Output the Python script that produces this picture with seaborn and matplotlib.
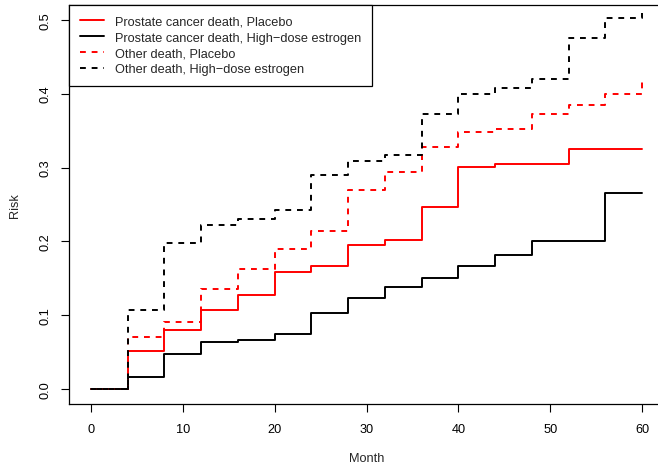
import numpy as np
import pandas as pd
import seaborn as sns
import matplotlib.pyplot as plt

# 时间点（月）与各组累积风险（阶梯值，从该时间点开始生效）
months = [0, 4, 8, 12, 16, 20, 24, 28, 32, 36, 40, 44, 48, 52, 56, 60]
prostate_placebo = [0, 0.052, 0.080, 0.107, 0.128, 0.159, 0.167, 0.195, 0.202,
                    0.246, 0.301, 0.305, 0.305, 0.325, 0.325, 0.325]
prostate_estrogen = [0, 0.016, 0.048, 0.064, 0.067, 0.075, 0.103, 0.123, 0.139,
                     0.150, 0.167, 0.182, 0.201, 0.201, 0.265, 0.265]
other_placebo = [0, 0.071, 0.091, 0.135, 0.163, 0.190, 0.214, 0.270, 0.294,
                 0.328, 0.348, 0.352, 0.372, 0.384, 0.400, 0.423]
other_estrogen = [0, 0.107, 0.198, 0.222, 0.230, 0.242, 0.290, 0.309, 0.317,
                  0.372, 0.400, 0.407, 0.420, 0.475, 0.503, 0.509]

labels = ["Prostate cancer death, Placebo",
          "Prostate cancer death, High\u2212dose estrogen",
          "Other death, Placebo",
          "Other death, High\u2212dose estrogen"]
colors = ["#FF0000", "#000000", "#FF0000", "#000000"]
styles = ["-", "-", (0, (3, 3)), (0, (3, 3))]

sns.set_style("ticks")
plt.rcParams["font.family"] = ["Liberation Sans", "DejaVu Sans"]
plt.rcParams["font.size"] = 9.2

fig = plt.figure(figsize=(6.58, 4.64), dpi=100)
W, H = 658, 464
# 轴区域：左 69px，右 664px（超出图片被裁掉），上 6px，下 405px
ax = fig.add_axes([69 / W, (H - 405) / H, 595 / W, 399 / H])

for vals, lab, col, ls in zip([prostate_placebo, prostate_estrogen, other_placebo, other_estrogen],
                              labels, colors, styles):
    sns.lineplot(x=months, y=vals, color=col, linestyle=ls, linewidth=1.4,
                 drawstyle="steps-post", estimator=None, sort=False,
                 label=lab, ax=ax)

ax.set_xlim(-2.4, 62.4)
ax.set_ylim(-0.02, 0.52)
ax.set_xticks(range(0, 61, 10))
ax.set_yticks([0, 0.1, 0.2, 0.3, 0.4, 0.5])
ax.set_yticklabels(["0.0", "0.1", "0.2", "0.3", "0.4", "0.5"])
ax.tick_params(direction="out", length=5.8, width=0.8, colors="black", labelsize=9.2)
ax.tick_params(axis="x", pad=8)
ax.tick_params(axis="y", pad=6.5)
plt.setp(ax.get_yticklabels(), rotation=90, va="center")
for sp in ax.spines.values():
    sp.set_color("black")
    sp.set_linewidth(0.9)
ax.spines["right"].set_visible(False)  # 原图右边框在图片外

ax.set_xlabel("Month", va="center", fontsize=9.2)
ax.xaxis.set_label_coords(0.5, (405 - 459) / 399)
ax.set_ylabel("Risk", va="center", ha="center", fontsize=9.2)
ax.yaxis.set_label_coords((15 - 69) / 595, 0.5)

leg = ax.legend(loc="upper left", bbox_to_anchor=(0, 1), borderaxespad=0,
                fancybox=False, framealpha=1, edgecolor="black",
                handlelength=1.9, handletextpad=0.85, labelspacing=0.3,
                borderpad=0.85, fontsize=9.2)
leg.get_frame().set_linewidth(0.9)

fig.savefig("out.png", dpi=100)
